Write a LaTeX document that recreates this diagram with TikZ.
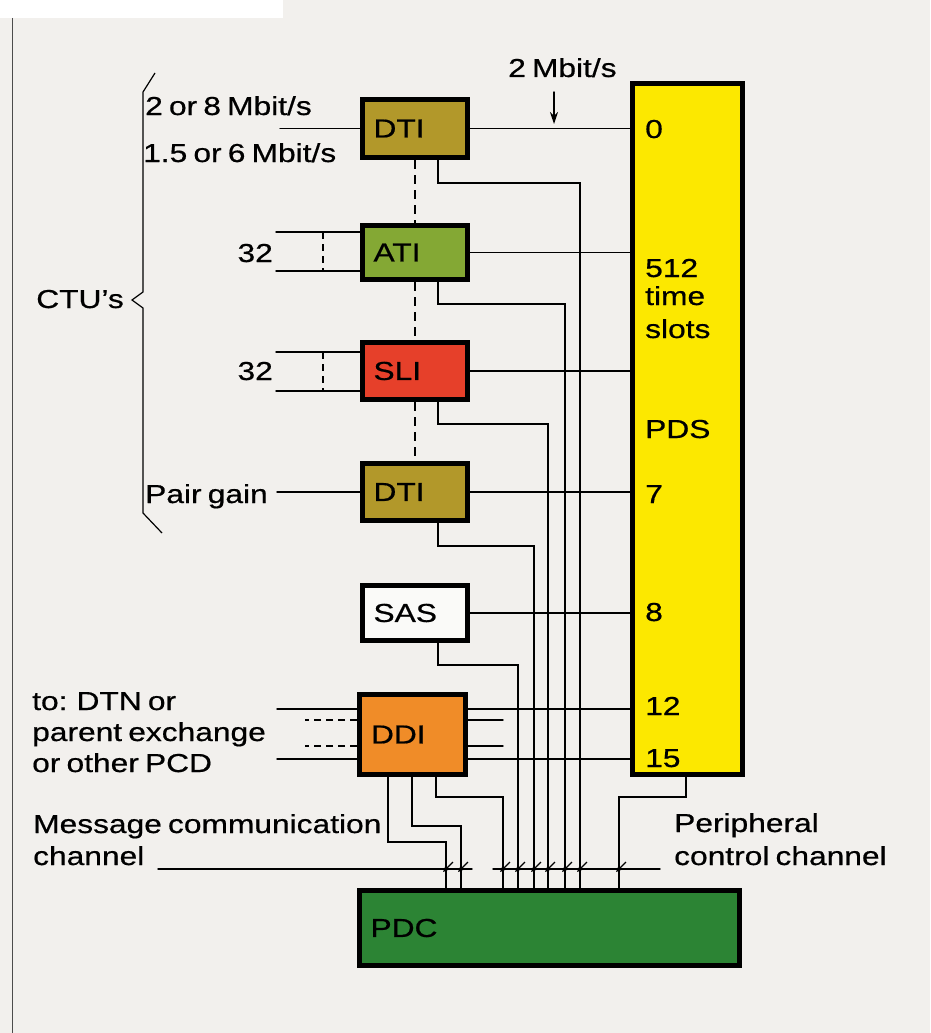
\documentclass[tikz,border=0pt]{standalone}
\usepackage{fontspec}
\setmainfont{Liberation Sans}[FakeStretch=1.22, FakeBold=0.6, WordSpace=0.7]
\usetikzlibrary{arrows.meta,calc}
\definecolor{bg}{RGB}{242,240,237}
\definecolor{dtic}{RGB}{178,152,42}
\definecolor{atic}{RGB}{132,168,52}
\definecolor{slic}{RGB}{230,64,42}
\definecolor{sasc}{RGB}{250,250,248}
\definecolor{ddic}{RGB}{240,140,40}
\definecolor{pdsc}{RGB}{252,232,0}
\definecolor{pdcc}{RGB}{44,132,52}
\begin{document}
\begin{tikzpicture}[x=1pt,y=-1pt,
  txt/.style={inner sep=0pt, anchor=base west, font=\fontsize{26}{31}\selectfont},
  unit/.style={draw=black, line width=5pt, inner xsep=11pt, inner ysep=0pt,
    font=\fontsize{26}{31}\selectfont, text width=83pt, align=left, minimum width=105pt},
  wire/.style={line width=1.4pt, line cap=round},
  dwire/.style={line width=1.4pt, dash pattern=on 7pt off 5pt},
  tap/.style={line width=1.2pt, -{Stealth[length=7pt,width=6pt]}}
]
\fill[bg] (0,0) rectangle (930,1033);
\fill[white] (0,0) rectangle (283,18);
\useasboundingbox (0,0) rectangle (930,1033);
\draw[line width=1pt, black!70] (12,18) -- (12,1033);

% units
\node[unit, fill=dtic, minimum height=58pt] (dti1) at (415,128.5) {DTI};
\node[unit, fill=atic, minimum height=54pt] (ati) at (415,252.5) {ATI};
\node[unit, fill=slic, minimum height=57pt] (sli) at (415,371) {SLI};
\node[unit, fill=dtic, minimum height=57pt] (dti2) at (415,492) {DTI};
\node[unit, fill=sasc, minimum height=55pt] (sas) at (415,613) {SAS};
\node[unit, fill=ddic, minimum height=80pt, minimum width=106pt] (ddi) at (412.5,734.5) {DDI};
\node[unit, fill=pdsc, minimum height=691pt, minimum width=110pt, text width=80pt] (pds) at (687.5,429) {};
\node[unit, fill=pdcc, minimum height=75pt, minimum width=380pt, text width=358pt] (pdc) at (549.5,928) {PDC};

% PDS labels
\node[txt] (s0) at (645,138) {0};
\node[txt] (s512) at (645,277) {512};
\node[txt] (stime) at (645,305) {time};
\node[txt] (sslots) at (645,338) {slots};
\node[txt] (spds) at (645,438) {PDS};
\node[txt] (s7) at (645,503) {7};
\node[txt] (s8) at (645,621) {8};
\node[txt] (s12) at (645,715) {12};
\node[txt] (s15) at (645,767) {15};

% left labels
\node[txt] (r1) at (145,115) {2 or 8 Mbit/s};
\node[txt] (r2) at (143,162) {1.5 or 6 Mbit/s};
\node[txt, anchor=base east] (n32a) at (273,262) {32};
\node[txt, anchor=base east] (n32b) at (273,380) {32};
\node[txt] (pg) at (145,503) {Pair gain};
\node[txt, anchor=base east] (ctu) at (124,308) {CTU's};
\node[txt] (to1) at (32,710) {to: DTN or};
\node[txt] (to2) at (32,741) {parent exchange};
\node[txt] (to3) at (32,772) {or other PCD};
\node[txt] (mc1) at (33,833) {Message communication};
\node[txt] (mc2) at (33,865) {channel};
\node[txt] (pc1) at (674,832) {Peripheral};
\node[txt] (pc2) at (674,865) {control channel};
\node[txt] (mb) at (508,77) {2 Mbit/s};

% brace
\draw[line width=1.2pt, line join=miter] (155,73) -- (143,92) -- (143,292) -- (132,300) -- (143,308) -- (143,513) -- (162,533);

% 2 Mbit/s arrow
\coordinate (mbtip) at (554,124);
\draw[wire, -{Stealth[length=12pt,width=8pt]}] (554,92) -- (mbtip);

% dashed links between CTUs
\draw[line width=1.6pt, dash pattern=on 9pt off 6pt] (dti1.south) -- (ati.north);
\draw[line width=1.6pt, dash pattern=on 9pt off 6pt] (ati.south) -- (sli.north);
\draw[line width=1.6pt, dash pattern=on 9pt off 6pt] (sli.south) -- (dti2.north);

% inputs on the left
\draw[wire] (dti1.west) -- ++(-80,0);
\draw[wire] ([yshift=20.5pt]ati.west) -- ++(-84,0);
\draw[wire] ([yshift=-18.5pt]ati.west) -- ++(-84,0);
\draw[dwire] ([shift={(-37pt,20.5pt)}]ati.west) -- ([shift={(-37pt,-18.5pt)}]ati.west);
\draw[wire] ([yshift=19pt]sli.west) -- ++(-84,0);
\draw[wire] ([yshift=-20pt]sli.west) -- ++(-84,0);
\draw[dwire] ([shift={(-37pt,19pt)}]sli.west) -- ([shift={(-37pt,-20pt)}]sli.west);
\draw[wire] (dti2.west) -- ++(-83,0);
\draw[wire] ([yshift=25.5pt]ddi.west) -- ++(-80,0);
\draw[dwire] ([yshift=14.5pt]ddi.west) -- ++(-52,0);
\draw[dwire] ([yshift=-11.5pt]ddi.west) -- ++(-52,0);
\draw[wire] ([yshift=-24.5pt]ddi.west) -- ++(-80,0);

% time slot links to PDS
\draw[wire] (dti1.east) -- (dti1.east -| pds.west);
\draw[wire] (ati.east) -- (ati.east -| pds.west);
\draw[wire] (sli.east) -- (sli.east -| pds.west);
\draw[wire] (dti2.east) -- (dti2.east -| pds.west);
\draw[wire] (sas.east) -- (sas.east -| pds.west);
\draw[wire] ([yshift=25.5pt]ddi.east) -- ++(162,0);
\draw[wire] ([yshift=14.5pt]ddi.east) -- ++(35,0);
\draw[wire] ([yshift=-11.5pt]ddi.east) -- ++(35,0);
\draw[wire] ([yshift=-24.5pt]ddi.east) -- ++(162,0);

% control bus columns
\coordinate (b1) at (580,0);
\coordinate (b2) at (565,0);
\coordinate (b3) at (548,0);
\coordinate (b4) at (534,0);
\coordinate (b5) at (518,0);
\coordinate (b6) at (503,0);
\coordinate (b7) at (461,0);
\coordinate (b8) at (446,0);
\coordinate (b9) at (619,0);

\draw[wire] ([xshift=23pt]dti1.south) -- ++(0,23) -| (b1 |- pdc.north);
\draw[wire] ([xshift=23pt]ati.south) -- ++(0,22) -| (b2 |- pdc.north);
\draw[wire] ([xshift=23pt]sli.south) -- ++(0,22) -| (b3 |- pdc.north);
\draw[wire] ([xshift=23pt]dti2.south) -- ++(0,23) -| (b4 |- pdc.north);
\draw[wire] ([xshift=23pt]sas.south) -- ++(0,22) -| (b5 |- pdc.north);
\draw[wire] ([xshift=23.5pt]ddi.south) -- ++(0,20) -| (b6 |- pdc.north);
\draw[wire] ([xshift=-0.5pt]ddi.south) -- ++(0,49) -| (b7 |- pdc.north);
\draw[wire] ([xshift=-24.5pt]ddi.south) -- ++(0,65) -| (b8 |- pdc.north);
\draw[wire] ([xshift=-1.5pt]pds.south) -- ++(0,20) -| (b9 |- pdc.north);

% channels
\coordinate (mcl) at (158,869);
\coordinate (mcr) at (472,869);
\coordinate (pcl) at (493,869);
\coordinate (pcr) at (660,869);
\draw[wire] (mcl) -- (mcr);
\draw[wire] (pcl) -- (pcr);
\foreach \b in {b1,b2,b3,b4,b5,b6,b7,b8,b9}{
  \draw[tap] ($(\b |- mcl)+(7,-7)$) -- ($(\b |- mcl)+(-3,3)$);
}
\end{tikzpicture}
\end{document}
